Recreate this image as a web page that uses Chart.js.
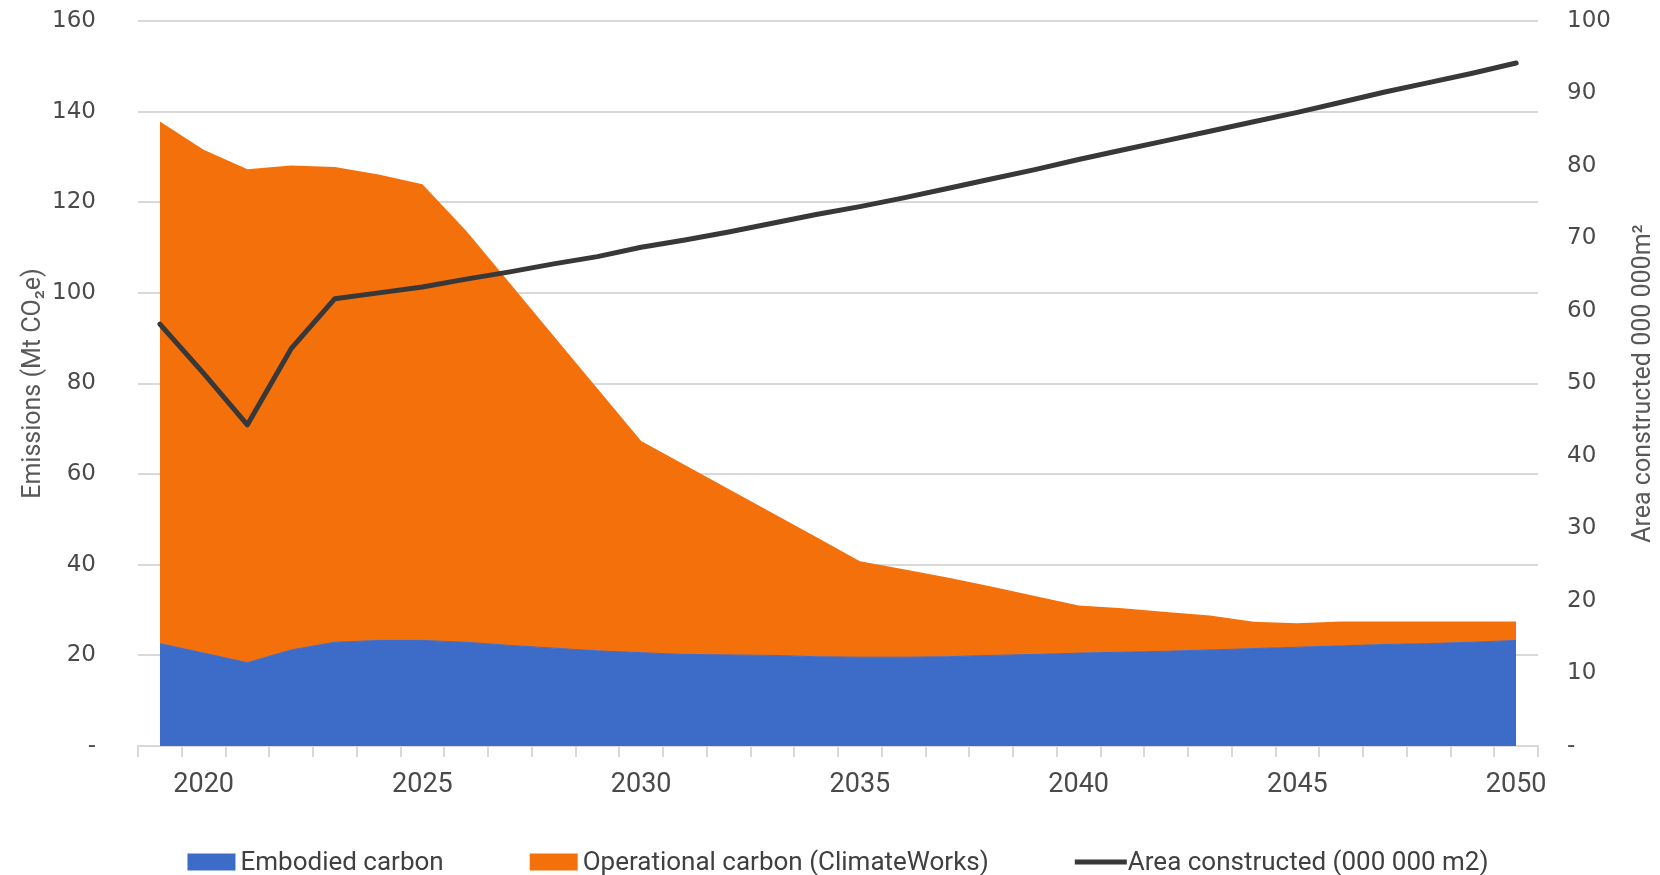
<!DOCTYPE html>
<html>
<head>
<meta charset="utf-8">
<script src="https://cdn.jsdelivr.net/npm/chart.js@4.4.1/dist/chart.umd.min.js"></script>
<style>
  html, body { margin: 0; padding: 0; background: #fff; }
  #wrap { width: 1660px; height: 875px; position: relative; }
</style>
</head>
<body>
<div id="wrap"><canvas id="myChart"></canvas></div>
<script>
const years = [2019, 2020, 2021, 2022, 2023, 2024, 2025, 2026, 2027, 2028, 2029, 2030,
  2031, 2032, 2033, 2034, 2035, 2036, 2037, 2038, 2039, 2040, 2041, 2042,
  2043, 2044, 2045, 2046, 2047, 2048, 2049, 2050];
const xTickLabels = ['2020', '2025', '2030', '2035', '2040', '2045', '2050'];

// Mt CO2e
const embodied = [22.6, 20.5, 18.4, 21.2, 22.9, 23.3, 23.3, 22.9, 22.2, 21.6, 21.0, 20.6,
  20.2, 20.1, 20.0, 19.7, 19.6, 19.6, 19.7, 20.0, 20.2, 20.5, 20.7, 20.9,
  21.2, 21.5, 21.8, 22.1, 22.4, 22.6, 22.9, 23.3];
const operational = [115.2, 111.1, 108.9, 106.9, 104.9, 102.8, 100.7, 90.8, 79.9, 68.9, 57.9, 46.7,
  41.8, 36.6, 31.4, 26.4, 21.2, 19.4, 17.5, 15.2, 12.9, 10.5, 9.7, 8.7,
  7.6, 5.9, 5.3, 5.4, 5.1, 4.9, 4.6, 4.2];
// 000 000 m2
const area = [58.2, 51.4, 44.3, 54.8, 61.7, 62.5, 63.3, 64.4, 65.4, 66.5, 67.5, 68.8,
  69.8, 70.9, 72.1, 73.3, 74.4, 75.6, 76.9, 78.2, 79.5, 80.9, 82.2, 83.5,
  84.8, 86.1, 87.4, 88.8, 90.2, 91.5, 92.8, 94.2];

const seriesNames = ['Embodied carbon', 'Operational carbon (ClimateWorks)', 'Area constructed (000 000 m2)'];
const rightTitle = 'Area constructed 000 000m\u00B2';

const BLUE = '#3d6cc8';
const ORANGE = '#f4700a';
const DARK = '#383838';
const TEXT = '#595959';
const TICK = '#4a4a4a';
const GRID = '#d9d9d9';

// right axis title reads bottom-to-top, chart.js draws it the other way
const rightTitlePlugin = {
  id: 'rightTitle',
  afterDraw(chart) {
    const ctx = chart.ctx;
    const a = chart.chartArea;
    ctx.save();
    ctx.translate(chart.width - 16, (a.top + a.bottom) / 2);
    ctx.rotate(-Math.PI / 2);
    ctx.font = '25px Roboto';
    ctx.fillStyle = TEXT;
    ctx.textAlign = 'center';
    ctx.textBaseline = 'middle';
    ctx.fillText(rightTitle, 0, 0);
    ctx.restore();
  }
};

const legendPlugin = {
  id: 'bottomLegend',
  afterDraw(chart) {
    const ctx = chart.ctx;
    const a = chart.chartArea;
    const boxW = 48, boxH = 17, gap = 5, spacing = 86;
    const y = chart.height - 13;
    ctx.save();
    ctx.font = '26px Roboto';
    const items = chart.data.datasets.map(ds => ({
      text: ds.label,
      color: ds.fill ? ds.backgroundColor : ds.borderColor,
      isLine: !ds.fill,
      w: boxW + gap + ctx.measureText(ds.label).width
    }));
    let total = items.reduce((s, it) => s + it.w, 0) + spacing * (items.length - 1);
    let x = (a.left + a.right) / 2 - total / 2;
    ctx.textBaseline = 'middle';
    ctx.textAlign = 'left';
    items.forEach(it => {
      if (it.isLine) {
        ctx.strokeStyle = it.color;
        ctx.lineWidth = 5;
        ctx.lineCap = 'butt';
        ctx.beginPath();
        ctx.moveTo(x, y);
        ctx.lineTo(x + boxW + 4, y);
        ctx.stroke();
      } else {
        ctx.fillStyle = it.color;
        ctx.fillRect(x, y - boxH / 2, boxW, boxH);
      }
      ctx.fillStyle = '#404040';
      ctx.fillText(it.text, x + boxW + gap, y + 1);
      x += it.w + spacing;
    });
    ctx.restore();
  }
};

const ctx = document.getElementById('myChart');

new Chart(ctx, {
  type: 'line',
  data: {
    labels: years,
    datasets: [
      {
        label: seriesNames[0],
        data: embodied,
        yAxisID: 'y',
        fill: 'origin',
        backgroundColor: BLUE,
        borderColor: BLUE,
        borderWidth: 1,
        pointRadius: 0,
        tension: 0,
        order: 1
      },
      {
        label: seriesNames[1],
        data: operational,
        yAxisID: 'y',
        fill: '-1',
        backgroundColor: ORANGE,
        borderColor: ORANGE,
        borderWidth: 0,
        pointRadius: 0,
        tension: 0,
        order: 2
      },
      {
        label: seriesNames[2],
        data: area,
        yAxisID: 'y1',
        fill: false,
        borderColor: DARK,
        backgroundColor: DARK,
        borderWidth: 5,
        borderJoinStyle: 'round',
        borderCapStyle: 'round',
        pointRadius: 0,
        tension: 0,
        order: 0
      }
    ]
  },
  options: {
    responsive: true,
    maintainAspectRatio: false,
    animation: false,
    layout: { padding: { top: 21, bottom: 0, left: 0, right: 0 } },
    plugins: {
      legend: { display: false },
      tooltip: { enabled: false }
    },
    scales: {
      x: {
        type: 'category',
        offset: true,
        grid: {
          display: true,
          offset: true,
          drawOnChartArea: false,
          drawTicks: true,
          tickLength: 11,
          color: GRID,
          lineWidth: 2
        },
        border: { display: true, color: GRID, width: 2 },
        ticks: {
          autoSkip: false,
          maxRotation: 0,
          padding: 12,
          color: TICK,
          font: { family: 'Roboto', size: 27 },
          callback: function (value, index) {
            const lbl = String(years[index]);
            return xTickLabels.includes(lbl) ? lbl : '';
          }
        },
        afterFit(scale) { scale.height = 129; }
      },
      y: {
        position: 'left',
        stacked: true,
        min: 0,
        max: 160,
        grid: { color: GRID, lineWidth: 2, drawTicks: false },
        border: { display: false },
        ticks: {
          stepSize: 20,
          padding: 42,
          color: TICK,
          font: { family: 'DejaVu Sans', size: 23 },
          callback: v => v === 0 ? '-' : v
        },
        title: {
          display: true,
          text: 'Emissions (Mt CO\u2082e)',
          color: TEXT,
          font: { family: 'Roboto', size: 25 },
          padding: { top: 19, bottom: 0 }
        },
        afterFit(scale) {
          scale.width = 138;
          scale.paddingTop = 0;
          scale.paddingBottom = 0;
        }
      },
      y1: {
        position: 'right',
        min: 0,
        max: 100,
        grid: { display: false, drawTicks: false },
        border: { display: false },
        ticks: {
          stepSize: 10,
          padding: 29,
          color: TICK,
          font: { family: 'DejaVu Sans', size: 23 },
          callback: v => v === 0 ? '-' : v
        },
        afterFit(scale) {
          scale.width = 122;
          scale.paddingTop = 0;
          scale.paddingBottom = 0;
        }
      }
    }
  },
  plugins: [rightTitlePlugin, legendPlugin]
});
</script>
</body>
</html>
